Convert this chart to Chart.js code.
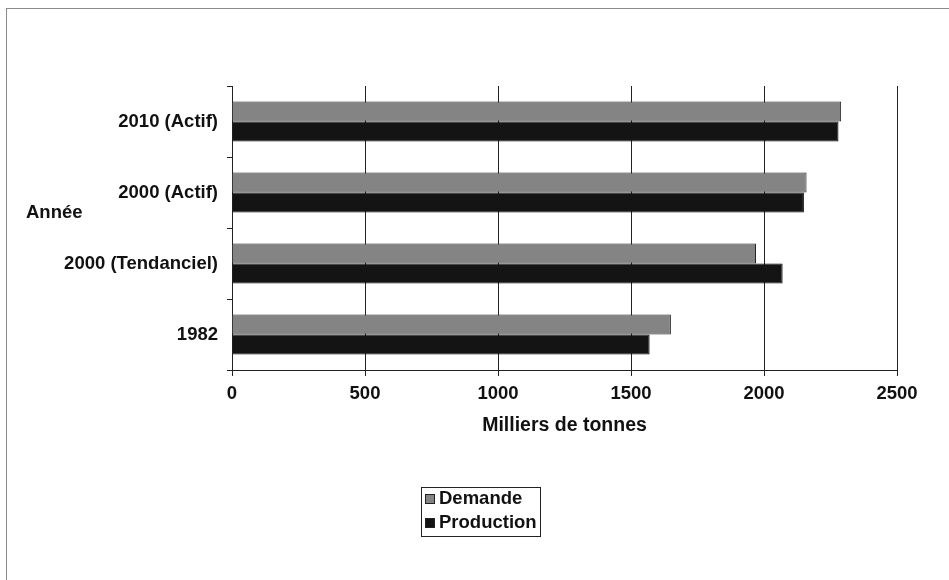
<!DOCTYPE html>
<html>
<head>
<meta charset="utf-8">
<title>Demande et production</title>
<script src="https://cdn.jsdelivr.net/npm/chart.js@4/dist/chart.umd.min.js"></script>
<style>
  html, body { margin: 0; padding: 0; background: #fff; }
  #wrap { width: 949px; height: 580px; position: relative; }
</style>
</head>
<body>
<div id="wrap"><canvas id="chart" width="949" height="580"></canvas></div>
<script>
// Data (milliers de tonnes)
const annees = ["2010 (Actif)", "2000 (Actif)", "2000 (Tendanciel)", "1982"];
const demande = [2290, 2160, 1970, 1650];
const production = [2280, 2150, 2070, 1570];
const xTicks = [0, 500, 1000, 1500, 2000, 2500];
const xTitle = "Milliers de tonnes";
const yTitle = "Année";

const FONT = "'Liberation Sans', Arial, Helvetica, sans-serif";
const INK = "#111";

// Frame, horizontal y title and boxed legend
const decor = {
  id: "decor",
  beforeDraw(chart) {
    const ctx = chart.ctx;
    ctx.save();
    ctx.fillStyle = "#fff";
    ctx.fillRect(0, 0, chart.width, chart.height);
    ctx.restore();
  },
  afterDraw(chart) {
    const ctx = chart.ctx;
    ctx.save();
    ctx.strokeStyle = "#8a8a8a";
    ctx.lineWidth = 1;
    ctx.strokeRect(6.5, 8.5, 980, 620);

    ctx.font = "bold 18.5px " + FONT;
    ctx.fillStyle = INK;
    ctx.textBaseline = "middle";
    ctx.textAlign = "left";
    ctx.fillText(yTitle, 26, 213);

    // legend
    ctx.strokeStyle = "#222";
    ctx.strokeRect(421.5, 487.5, 119, 49);
    chart.data.datasets.forEach((ds, i) => {
      const y = 499 + i * 24;
      ctx.fillStyle = ds.backgroundColor;
      ctx.fillRect(425, y - 5, 10, 10);
      ctx.strokeStyle = "#222";
      ctx.strokeRect(425.5, y - 4.5, 9, 9);
      ctx.fillStyle = INK;
      ctx.fillText(ds.label, 439, y);
    });
    ctx.restore();
  }
};

const ctx = document.getElementById("chart").getContext("2d");
new Chart(ctx, {
  type: "bar",
  data: {
    labels: annees,
    datasets: [
      {
        label: "Demande",
        data: demande,
        backgroundColor: "#848484",
        borderColor: "#222",
        borderWidth: 1,
      },
      {
        label: "Production",
        data: production,
        backgroundColor: "#141414",
        borderColor: "#000",
        borderWidth: 1,
      },
    ],
  },
  options: {
    indexAxis: "y",
    responsive: false,
    animation: false,
    devicePixelRatio: 1,
    datasets: {
      bar: { categoryPercentage: 0.563, barPercentage: 1 },
    },
    layout: { padding: { left: 0, top: 86, right: 52, bottom: 143 } },
    scales: {
      x: {
        min: 0,
        max: 2500,
        afterBuildTicks(scale) {
          scale.ticks = xTicks.map((v) => ({ value: v }));
        },
        afterFit(scale) {
          scale.height = 67;
        },
        grid: { color: "#222", lineWidth: 1, tickLength: 6, drawOnChartArea: true },
        border: { display: true, color: "#222", width: 1 },
        ticks: {
          color: INK,
          padding: 7,
          font: { family: FONT, size: 18.5, weight: "bold" },
          maxRotation: 0,
          callback: (v) => String(v),
        },
        title: {
          display: true,
          text: xTitle,
          color: INK,
          font: { family: FONT, size: 19.5, weight: "bold" },
          padding: { top: 1, bottom: 0 },
        },
      },
      y: {
        afterFit(scale) {
          scale.width = 232;
        },
        grid: { color: "#222", lineWidth: 1, tickLength: 5, drawOnChartArea: false, offset: true },
        border: { display: true, color: "#222", width: 1 },
        ticks: {
          color: INK,
          padding: 9,
          font: { family: FONT, size: 18.5, weight: "bold" },
        },
      },
    },
    plugins: {
      legend: { display: false },
      tooltip: { enabled: false },
    },
  },
  plugins: [decor],
});
</script>
</body>
</html>
